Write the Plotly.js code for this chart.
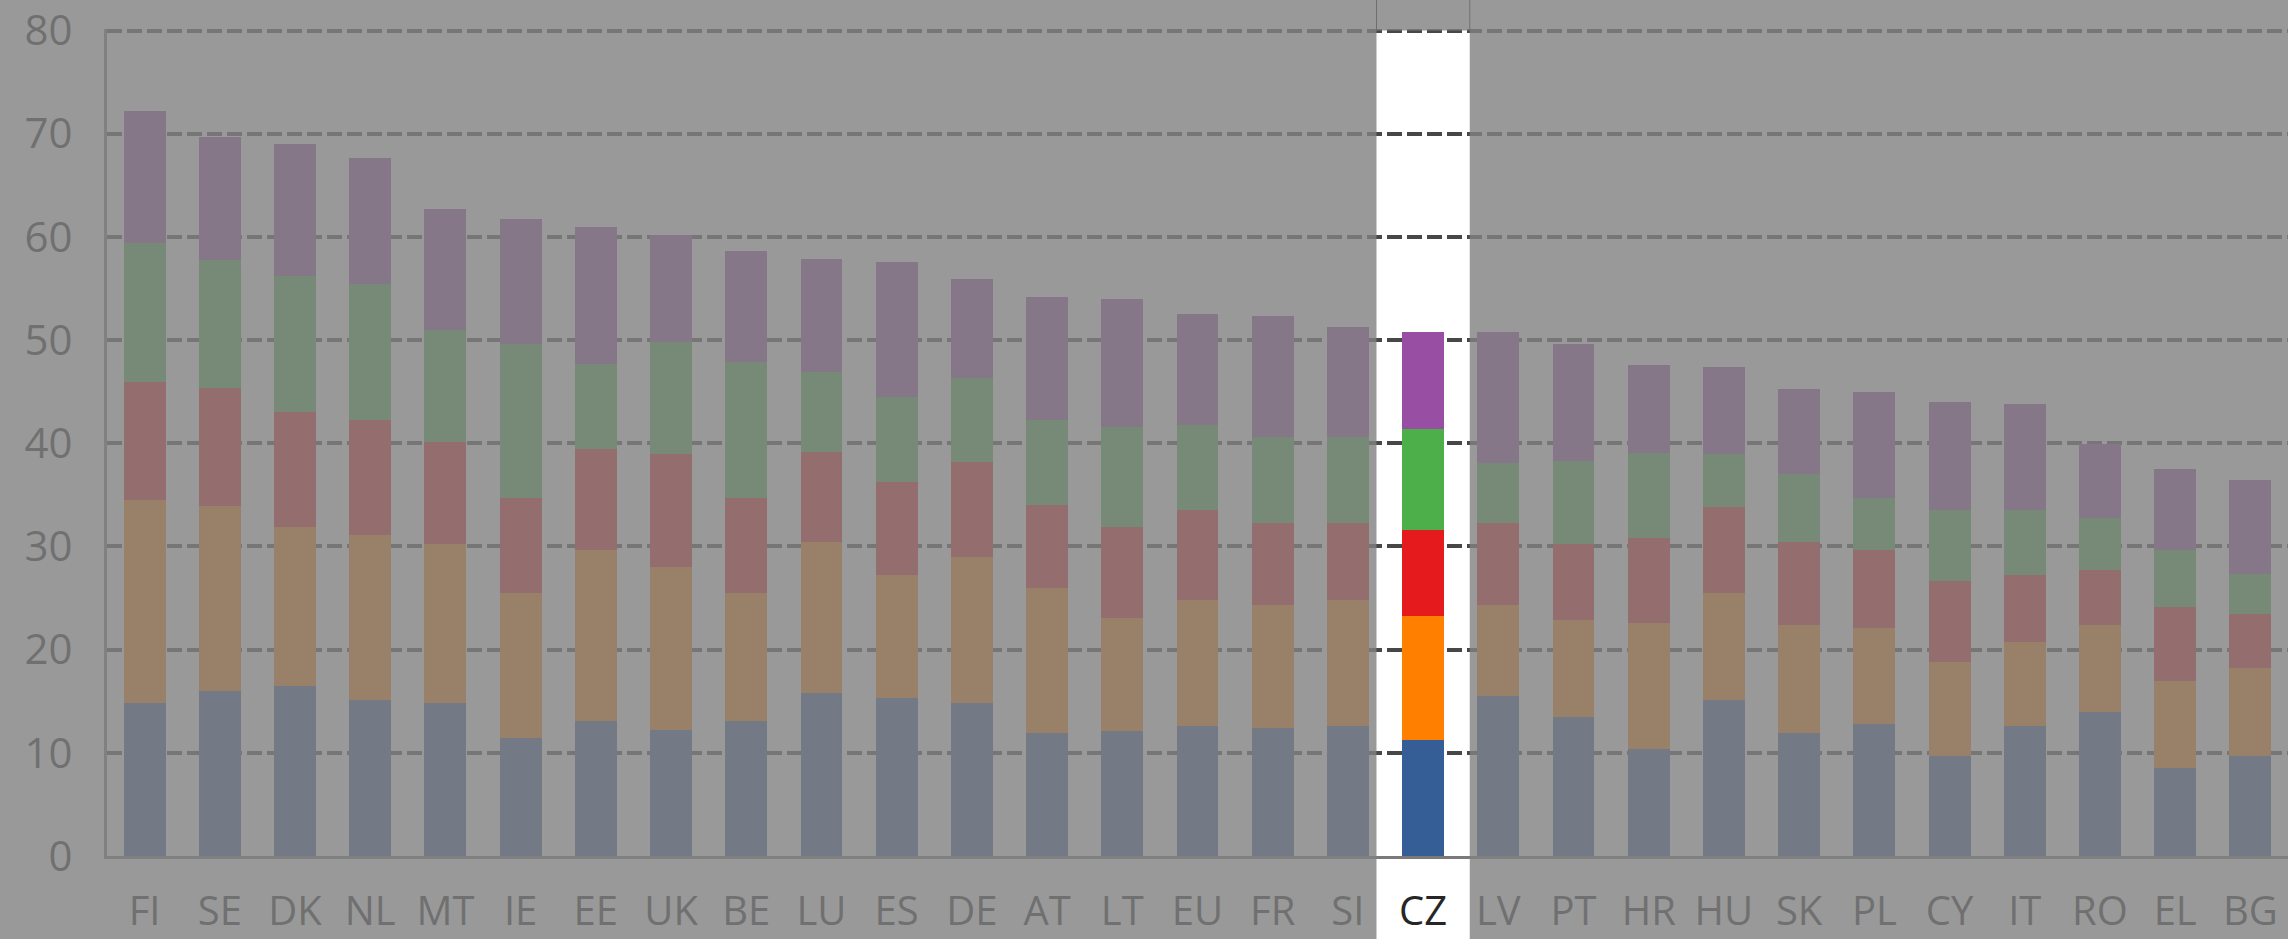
<!DOCTYPE html>
<html>
<head>
<meta charset="utf-8">
<script src="https://cdn.plot.ly/plotly-3.0.1.min.js"></script>
<style>html,body{margin:0;padding:0;background:#fff;}#chart{width:2288px;height:939px;}</style>
</head>
<body>
<div id="chart"></div>
<script>
const categories = ['FI','SE','DK','NL','MT','IE','EE','UK','BE','LU','ES','DE','AT','LT','EU','FR','SI','CZ','LV','PT','HR','HU','SK','PL','CY','IT','RO','EL','BG'];
const highlighted = 'CZ';

const series1 = [14.8,16.0,16.5,15.1,14.8,11.4,13.1,12.2,13.1,15.8,15.3,14.8,11.9,12.1,12.6,12.4,12.6,11.2,15.5,13.5,10.4,15.1,11.9,12.8,9.7,12.6,14.0,8.5,9.7];
const series2 = [19.7,17.9,15.4,16.0,15.4,14.1,16.6,15.8,12.4,14.6,11.9,14.2,14.1,11.0,12.2,11.9,12.2,12.1,8.8,9.4,12.2,10.4,10.5,9.3,9.1,8.1,8.4,8.5,8.5];
const series3 = [11.4,11.5,11.1,11.2,9.9,9.2,9.7,11.0,9.2,8.8,9.0,9.2,8.0,8.8,8.7,8.0,7.5,8.3,8.0,7.3,8.2,8.3,8.0,7.6,7.9,6.5,5.3,7.1,5.3];
const series4 = [13.5,12.4,13.2,13.1,10.9,14.9,8.3,10.8,13.2,7.7,8.3,8.1,8.3,9.7,8.3,8.3,8.3,9.8,5.8,8.1,8.3,5.2,6.6,5.0,6.8,6.3,5.1,5.6,3.8];
const series5 = [12.8,11.9,12.8,12.2,11.7,12.1,13.3,10.4,10.7,11.0,13.1,9.6,11.9,12.4,10.7,11.7,10.7,9.4,12.7,11.3,8.5,8.4,8.3,10.3,10.5,10.3,7.1,7.8,9.1];
const yTicks = [0,10,20,30,40,50,60,70,80];

const colors = ['#365e96','#ff7f00','#e41a1c','#4daf4a','#984ea3'];
const allSeries = [series1, series2, series3, series4, series5];

const traces = allSeries.map((vals, i) => ({
  type: 'bar',
  x: categories,
  y: vals,
  marker: {color: colors[i], line: {width: 0}},
  hoverinfo: 'skip',
  showlegend: false
}));

const n = categories.length;
const idx = categories.indexOf(highlighted);
const half = 0.62;
const bx0 = (idx + 0.5 - half) / n;
const bx1 = (idx + 0.5 + half) / n;
const veil = 'rgba(129,129,129,0.81)';
const yMax = 80.15;
const bandTop = 80 / yMax;

const shapes = [
  {type:'rect', xref:'paper', yref:'paper', x0:-0.2, x1:bx0, y0:-0.3, y1:1.2, fillcolor:veil, line:{width:0}, layer:'above'},
  {type:'rect', xref:'paper', yref:'paper', x0:bx1, x1:1.2, y0:-0.3, y1:1.2, fillcolor:veil, line:{width:0}, layer:'above'},
  {type:'rect', xref:'paper', yref:'paper', x0:bx0, x1:bx1, y0:bandTop, y1:1.2, fillcolor:veil, line:{width:0}, layer:'above'},
  {type:'line', xref:'paper', yref:'paper', x0:bx0, x1:bx0, y0:bandTop, y1:1.2, line:{color:'rgba(110,110,110,1)', width:1}, layer:'above'},
  {type:'line', xref:'paper', yref:'paper', x0:bx1, x1:bx1, y0:bandTop, y1:1.2, line:{color:'rgba(110,110,110,1)', width:1}, layer:'above'}
];

const layout = {
  width: 2288,
  height: 939,
  margin: {l: 107, r: 0, t: 29, b: 83, pad: 0},
  paper_bgcolor: '#ffffff',
  plot_bgcolor: '#ffffff',
  barmode: 'stack',
  bargap: 0.443,
  font: {family: '"Open Sans", "DejaVu Sans", sans-serif', size: 40, color: '#262626'},
  xaxis: {
    type: 'category',
    categoryorder: 'array',
    categoryarray: categories,
    range: [-0.5, n - 0.5],
    showgrid: false,
    showline: true,
    linecolor: '#7a7a7a',
    linewidth: 3,
    ticks: '',
    ticklabelstandoff: 18,
    tickfont: {size: 40, color: '#262626'},
    fixedrange: true
  },
  yaxis: {
    range: [0, yMax],
    tickvals: yTicks,
    ticktext: yTicks.map(String),
    showgrid: true,
    gridcolor: '#474747',
    gridwidth: 4,
    griddash: '15px,5px',
    zeroline: false,
    showline: true,
    linecolor: '#7a7a7a',
    linewidth: 3,
    ticks: '',
    ticklabelstandoff: 23,
    tickfont: {size: 42, color: '#262626'},
    fixedrange: true
  },
  shapes: shapes
};

Plotly.newPlot('chart', traces, layout, {displayModeBar: false, staticPlot: true});
</script>
</body>
</html>
